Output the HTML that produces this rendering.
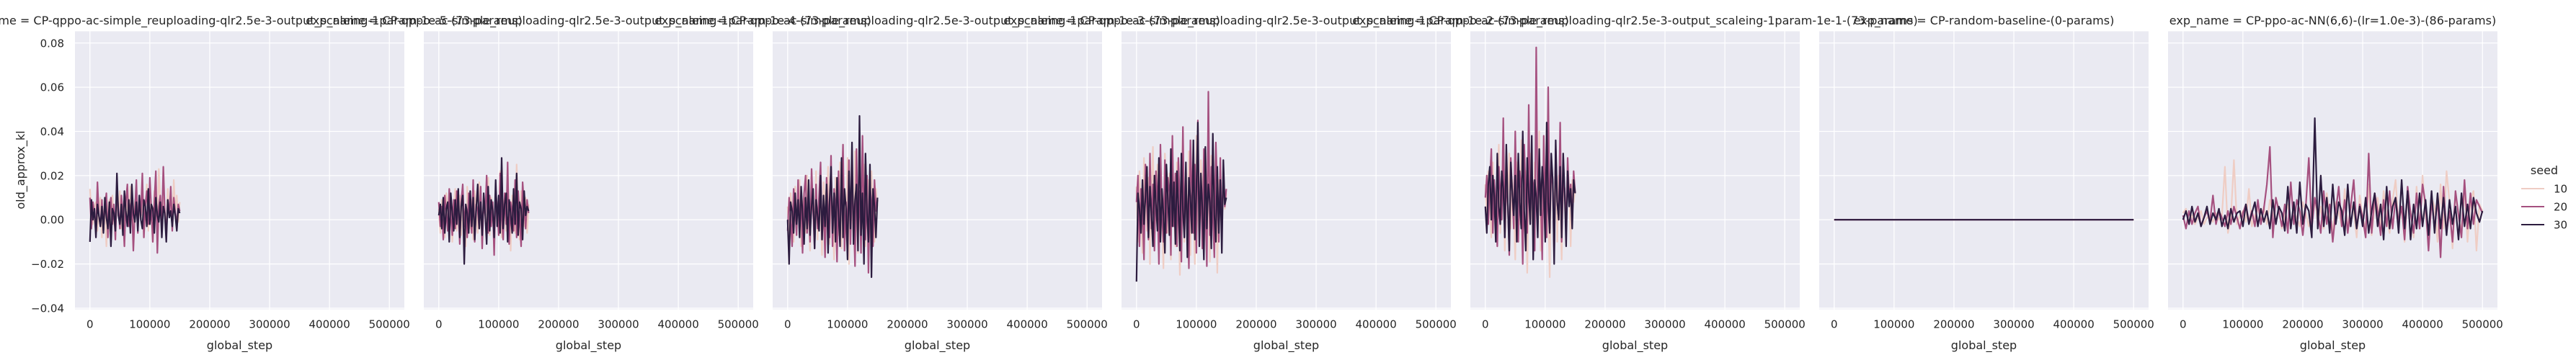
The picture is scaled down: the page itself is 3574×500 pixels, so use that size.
<!DOCTYPE html>
<html><head><meta charset="utf-8">
<style>
html,body{margin:0;padding:0;background:#fff;}
svg{display:block;font-family:"DejaVu Sans","Liberation Sans",sans-serif;}
</style></head>
<body>
<svg id="chart" width="3574" height="500" viewBox="0 0 3574 500" xmlns="http://www.w3.org/2000/svg"></svg>
<script>
// ---- data (values in units of 0.001) ----
const titles = [
 "exp_name = CP-qppo-ac-simple_reuploading-qlr2.5e-3-output_scaleing-1param-1e-5-(73-params)",
 "exp_name = CP-qppo-ac-simple_reuploading-qlr2.5e-3-output_scaleing-1param-1e-4-(73-params)",
 "exp_name = CP-qppo-ac-simple_reuploading-qlr2.5e-3-output_scaleing-1param-1e-3-(73-params)",
 "exp_name = CP-qppo-ac-simple_reuploading-qlr2.5e-3-output_scaleing-1param-1e-2-(73-params)",
 "exp_name = CP-qppo-ac-simple_reuploading-qlr2.5e-3-output_scaleing-1param-1e-1-(73-params)",
 "exp_name = CP-random-baseline-(0-params)",
 "exp_name = CP-ppo-ac-NN(6,6)-(lr=1.0e-3)-(86-params)"
];
const seeds = [10, 20, 30];
const maxSteps = [150000,150000,150000,150000,150000,500000,500000];
const yTicks = [-0.04,-0.02,0.00,0.02,0.04,0.06,0.08];
const xTicks = [0,100000,200000,300000,400000,500000];

const p1s10=[14,3,-2,6,8,-5,4,10,-8,2,7,-12,5,9,-3,11,0,-6,8,4,13,-4,6,-9,10,3,-2,15,5,-7,8,12,-3,6,0,11,-8,4,16,-5,9,2,-10,13,6,-3,23,8,-4,10,5,-6,14,2,9,-2,18,4,11,-1,8];
const p1s20=[10,-4,8,3,-6,17,2,-3,9,-5,6,12,-8,4,10,-2,7,-9,14,5,-4,11,3,-12,8,16,-3,6,9,-14,4,18,-6,10,2,21,-8,7,13,-2,19,5,-10,8,22,-15,6,11,-3,24,4,-8,9,2,15,-5,10,3,-2,7,4];
const p1s30=[-10,9,0,5,-8,7,2,-3,6,-6,10,1,-4,8,-12,5,3,-5,21,2,-2,7,-7,13,4,-3,9,-6,16,3,-1,8,-5,11,0,-4,9,6,-3,14,-2,7,5,-6,10,2,-1,8,-8,6,3,-10,9,1,4,-3,7,2,-5,5,3];

const p2s10=[5,-6,9,2,-8,12,4,-3,10,-10,6,14,-5,3,11,-7,8,2,-12,15,5,-4,9,-9,13,3,-6,17,6,-11,8,2,-4,19,-7,10,4,-13,12,6,-3,22,-8,9,3,-5,16,7,-14,11,2,-6,25,4,-9,13,5,-3,10,-6,7];
const p2s20=[8,-3,6,-9,11,3,-5,14,2,-7,9,-4,13,5,-11,8,16,-3,6,-8,12,3,-6,18,-10,7,4,-4,15,-13,9,2,20,-6,11,-3,8,-16,14,5,-7,21,3,-9,12,-2,26,-11,8,4,-5,18,-8,13,2,-12,17,6,-4,9,3];
const p2s30=[2,7,-4,10,-6,5,8,-10,12,3,-5,9,-2,14,-8,6,11,-20,7,3,-6,13,-3,10,-9,5,16,-4,8,-7,12,2,-11,15,-5,9,4,-8,18,-3,11,-6,28,-4,7,12,-10,9,3,-6,14,-2,21,-7,8,5,-9,13,2,6,4];

const p3s10=[6,-8,12,3,-10,15,-4,9,18,-12,5,11,-6,20,2,-14,13,7,-5,22,-9,10,4,-16,17,8,-3,24,-11,12,5,-18,19,3,-7,26,-13,9,14,-6,28,-20,11,6,-9,31,2,-15,16,8,-4,25,-12,10,18,-8,22,5,-10,14,6];
const p3s20=[-5,10,2,-12,14,5,-7,18,-3,9,-15,12,20,-6,8,-10,23,4,-13,16,-4,11,26,-9,7,-17,19,3,-8,29,-12,14,6,-19,22,-5,10,34,-14,8,-7,27,-11,17,4,-21,32,-6,13,-15,38,2,-9,20,-24,15,8,-12,18,4,9];
const p3s30=[0,-20,8,4,-6,12,-2,9,-8,15,3,-11,10,-4,18,-7,6,14,-13,9,2,-5,20,-9,11,-3,16,-15,8,24,-6,12,-10,19,2,-12,28,-8,14,5,-18,22,-4,35,-11,9,16,-14,47,-7,12,-20,30,3,-10,25,-26,14,6,-8,10];

const p4s10=[15,-10,22,4,-15,28,8,-5,19,-20,12,33,-8,6,25,-14,18,2,-22,30,10,-6,21,-18,35,5,-12,26,9,-25,17,40,-10,14,-4,31,-16,22,7,-20,38,3,-9,27,13,-14,33,-5,20,-19,29,8,-11,24,-24,18,10,-7,22,5,12];
const p4s20=[8,20,-12,14,3,-18,25,6,-9,30,-4,16,-14,22,9,-20,34,2,-10,27,-6,19,12,-16,38,-3,21,-12,28,7,-19,42,-8,15,4,-22,36,11,-6,25,-15,45,-2,18,-13,32,9,-21,58,-7,24,3,-17,35,12,-10,28,-5,20,6,14];
const p4s30=[-28,12,5,-6,18,-2,10,24,-8,15,3,-12,20,7,-5,28,-10,14,2,-15,25,9,-7,32,-3,17,-11,22,6,-14,30,4,-8,26,-17,19,10,-6,36,-9,14,44,-12,21,5,-18,33,-4,16,8,-13,39,2,-10,24,-6,18,-15,27,7,10];

const p5s10=[16,2,22,10,-8,26,8,0,20,34,-6,16,24,-14,14,8,30,-4,18,6,-18,26,12,-2,36,-8,18,22,-24,16,30,6,-10,26,10,-2,40,-14,14,22,-6,28,8,-26,24,16,0,34,-10,20,10,-18,30,6,-4,24,14,-12,18,8,14];
const p5s20=[10,20,-2,16,32,-6,18,6,-12,24,12,0,46,-8,18,8,-16,28,12,-4,40,4,-10,22,14,-20,34,10,-6,52,0,20,16,-14,78,-2,24,12,-18,38,6,-8,60,-4,22,16,-16,32,8,0,44,-10,18,14,-6,28,8,16,-2,22,12];
const p5s30=[6,-6,16,24,0,20,10,-10,30,6,-2,22,14,-8,34,8,-14,26,12,2,20,-10,30,8,-4,40,4,-14,28,12,-2,38,-18,18,10,-8,32,2,24,14,-10,44,8,-6,30,18,-20,36,8,0,24,-8,30,12,-12,22,6,14,-4,18,12];

const p6s10=[0,0,0,0,0,0,0,0,0,0,0];
const p6s20=[0,0,0,0,0,0,0,0,0,0,0];
const p6s30=[0,0,0,0,0,0,0,0,0,0,0];

const p7s10=[3,5,-1,2,-2,1,4,-2,1,2,-1,3,0,2,24,-6,1,27,-2,2,4,-1,14,-3,2,5,0,6,-2,9,3,-1,5,-4,2,7,-2,4,1,-3,8,3,-3,5,10,-2,6,-4,12,2,-5,8,3,-3,14,-5,7,4,-8,11,1,-4,16,-7,6,10,-4,13,2,-6,9,18,-3,6,-10,12,4,-8,15,-4,20,2,-10,10,6,-10,16,-4,22,8,-13,11,3,-6,15,-10,9,13,-14,7,4];
const p7s20=[2,-4,4,-2,3,6,-3,1,4,-1,11,-2,4,1,-3,4,-2,6,1,-4,3,7,-1,4,-3,9,-2,5,16,33,-8,10,4,-3,7,-6,17,-2,9,4,-7,6,28,-4,10,3,-6,13,-2,7,-10,4,15,-3,9,-6,6,18,-4,7,1,-8,30,-6,12,4,-7,9,-3,13,-4,10,-1,6,-9,15,3,-6,12,-4,16,7,-14,9,-4,10,-17,15,-6,4,-10,13,2,-8,18,-4,12,-2,9,6,3];
const p7s30=[0,4,-2,6,-1,3,-3,1,6,-2,3,0,5,-3,2,-4,5,-1,3,4,-3,7,-2,3,8,-3,5,-1,4,-4,9,-2,6,3,-5,15,-4,8,-6,17,-2,7,4,-8,46,-4,20,-3,10,-6,16,-2,8,4,-7,16,-3,8,-4,6,-3,10,-6,4,12,-3,7,-9,15,-4,6,10,-6,18,-4,13,-9,7,-4,12,-3,9,-7,13,-6,12,-4,10,-7,9,-2,6,-9,12,-3,7,-4,10,3,-1,4];

const panelSeries = [[p1s10,p1s20,p1s30],[p2s10,p2s20,p2s30],[p3s10,p3s20,p3s30],[p4s10,p4s20,p4s30],[p5s10,p5s20,p5s30],[p6s10,p6s20,p6s30],[p7s10,p7s20,p7s30]];

// ---- layout ----
const NS="http://www.w3.org/2000/svg";
const svg=document.getElementById('chart');
const colors=["#efcdc4","#a5507f","#2c1c3f"];
const P_LEFT0=104, P_STRIDE=484, P_W=457, P_TOP=43.5, P_BOT=429.5;
const X_MIN=-25000, X_MAX=525000;
const Y_MIN=-0.0405, Y_MAX=0.0853;
const textColor="#262626";
function mk(tag,attrs,parent){const e=document.createElementNS(NS,tag);for(const k in attrs)e.setAttribute(k,attrs[k]);(parent||svg).appendChild(e);return e;}
function fmtY(v){const s=Math.abs(v).toFixed(2);return (v<-1e-9?"\u2212":"")+s;}

for(let p=0;p<7;p++){
  const left=P_LEFT0+p*P_STRIDE;
  const xs=v=>left+(v-X_MIN)/(X_MAX-X_MIN)*P_W;
  const ys=v=>P_BOT-(v-Y_MIN)/(Y_MAX-Y_MIN)*(P_BOT-P_TOP);
  const g=mk('g',{});
  
  
  const bg=mk('rect',{x:left,y:P_TOP,width:P_W,height:P_BOT-P_TOP,fill:"#eaeaf2"},g);
  
  
  yTicks.forEach(t=>{
    const gl=mk('line',{x1:left,x2:left+P_W,y1:ys(t),y2:ys(t),stroke:"#fff","stroke-width":1.3},g);
    
    
    if(p===0){
      const tl=mk('text',{x:89,y:ys(t)+5.5,"text-anchor":"end","font-size":"15px",fill:textColor},g);
      tl.textContent=fmtY(t);
      
      
    }
  });
  xTicks.forEach(t=>{
    const gl=mk('line',{x1:xs(t),x2:xs(t),y1:P_TOP,y2:P_BOT,stroke:"#fff","stroke-width":1.3},g);
    
    
    const tl=mk('text',{x:xs(t),y:455.5,"text-anchor":"middle","font-size":"15px",fill:textColor},g);
    tl.textContent=String(t);
    
    
  });
  const xl=mk('text',{x:left+P_W/2,y:485,"text-anchor":"middle","font-size":"16px",fill:textColor},g);
  xl.textContent="global_step";
  
  
  const tt=mk('text',{x:left+P_W/2,y:34,"text-anchor":"middle","font-size":"16px",fill:textColor},g);
  tt.textContent=titles[p];
  
  
  panelSeries[p].forEach((arr,si)=>{
    const n=arr.length, step=maxSteps[p]/(n-1);
    let d="";
    arr.forEach((v,i)=>{d+=(i?"L":"M")+xs(i*step).toFixed(1)+","+ys(v/1000).toFixed(1);});
    const path=mk('path',{d:d,fill:"none",stroke:colors[si],"stroke-width":2.2,"stroke-linejoin":"round"},g);
    
    
  });
}
const yl=mk('text',{x:0,y:0,"text-anchor":"middle","font-size":"16px",fill:textColor,transform:"translate(34,236) rotate(-90)"});
yl.textContent="old_approx_kl";


const lg=mk('g',{});


const lt=mk('text',{x:3530,y:242,"text-anchor":"middle","font-size":"16px",fill:textColor},lg);
lt.textContent="seed";


seeds.forEach((s,i)=>{
  const y=262+i*25;
  const ln=mk('line',{x1:3498,x2:3530,y1:y,y2:y,stroke:colors[i],"stroke-width":2},lg);
  
  
  const tx=mk('text',{x:3543,y:y+5.5,"font-size":"15px",fill:textColor},lg);
  tx.textContent=String(s);
  
  
});
</script>
</body></html>
